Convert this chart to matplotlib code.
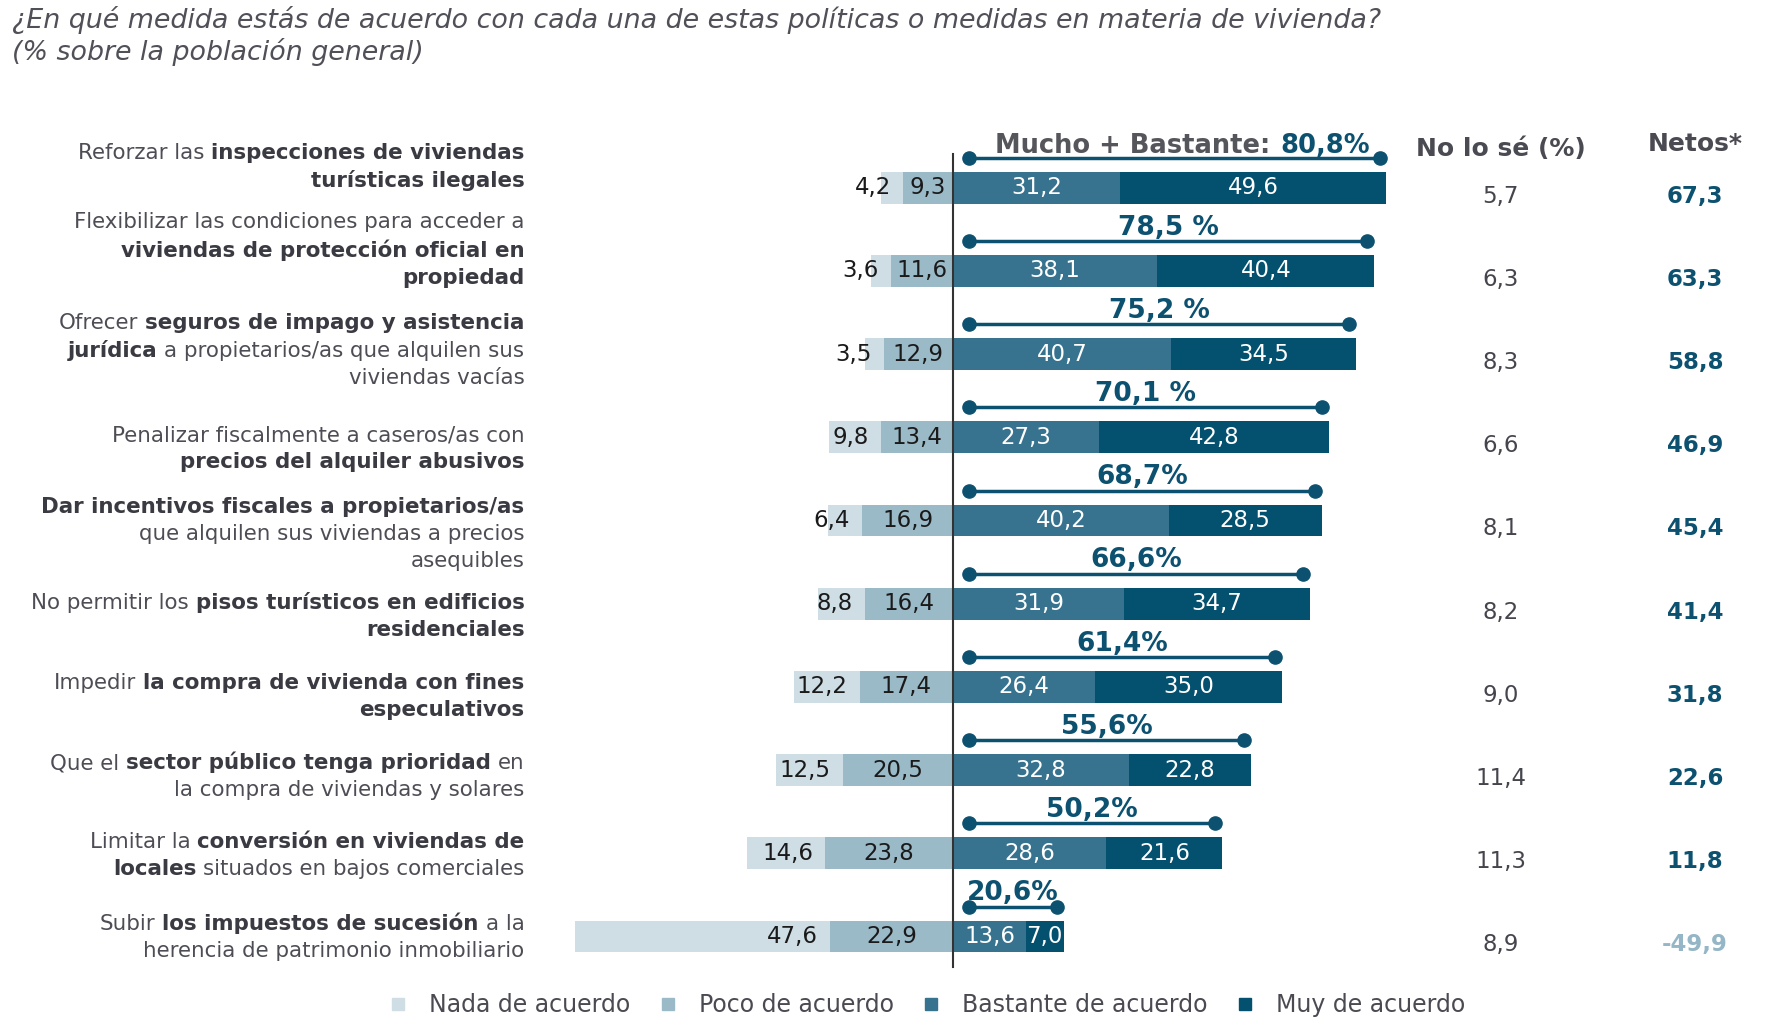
import numpy as np
import matplotlib
matplotlib.use("Agg")
import matplotlib.pyplot as plt
from matplotlib.lines import Line2D
from matplotlib.offsetbox import TextArea, HPacker, VPacker, AnnotationBbox

plt.rcParams['font.family'] = ['DejaVu Sans']

# ---- data ----
labels = [
    "Reforzar las **inspecciones de viviendas**\n**turísticas ilegales**",
    "Flexibilizar las condiciones para acceder a\n**viviendas de protección oficial en**\n**propiedad**",
    "Ofrecer **seguros de impago y asistencia**\n**jurídica** a propietarios/as que alquilen sus\nviviendas vacías",
    "Penalizar fiscalmente a caseros/as con\n**precios del alquiler abusivos**",
    "**Dar incentivos fiscales a propietarios/as**\nque alquilen sus viviendas a precios\nasequibles",
    "No permitir los **pisos turísticos en edificios**\n**residenciales**",
    "Impedir **la compra de vivienda con fines**\n**especulativos**",
    "Que el **sector público tenga prioridad** en\nla compra de viviendas y solares",
    "Limitar la **conversión en viviendas de**\n**locales** situados en bajos comerciales",
    "Subir **los impuestos de sucesión** a la\nherencia de patrimonio inmobiliario",
]
nada = [4.2, 3.6, 3.5, 9.8, 6.4, 8.8, 12.2, 12.5, 14.6, 47.6]
poco = [9.3, 11.6, 12.9, 13.4, 16.9, 16.4, 17.4, 20.5, 23.8, 22.9]
bastante = [31.2, 38.1, 40.7, 27.3, 40.2, 31.9, 26.4, 32.8, 28.6, 13.6]
muy = [49.6, 40.4, 34.5, 42.8, 28.5, 34.7, 35.0, 22.8, 21.6, 7.0]
total_labels = ["80,8%", "78,5 %", "75,2 %", "70,1 %", "68,7%", "66,6%",
                "61,4%", "55,6%", "50,2%", "20,6%"]
no_se = [5.7, 6.3, 8.3, 6.6, 8.1, 8.2, 9.0, 11.4, 11.3, 8.9]
netos = [67.3, 63.3, 58.8, 46.9, 45.4, 41.4, 31.8, 22.6, 11.8, -49.9]
legend_names = ["Nada de acuerdo", "Poco de acuerdo", "Bastante de acuerdo", "Muy de acuerdo"]

# ---- style ----
c_nada, c_poco, c_bast, c_muy = "#cfdde4", "#9bbac8", "#37738f", "#03506f"
c_text = "#45454d"
c_teal = "#0d5170"
c_neg = "#94b6c6"

W, H = 1784, 1034
PX_UNIT = 5.365      # pixels per percentage point
ZERO_PX = 953        # x pixel of the zero line
ROW0_PX = 187.7      # y pixel of the first bar centre
ROW_PX = 83.2        # pixels between bars

fig = plt.figure(figsize=(W / 100, H / 100), dpi=100)
ax = fig.add_axes([0, 0, 1, 1])
ax.set_xlim(-ZERO_PX / PX_UNIT, (W - ZERO_PX) / PX_UNIT)
ax.set_ylim((H - ROW0_PX) / ROW_PX, -ROW0_PX / ROW_PX)
ax.axis('off')

n = len(nada)
y = np.arange(n)
nada = np.array(nada); poco = np.array(poco)
bastante = np.array(bastante); muy = np.array(muy)
bh = 0.38

ax.barh(y, -poco, left=0, height=bh, color=c_poco)
ax.barh(y, -nada, left=-poco, height=bh, color=c_nada)
ax.barh(y, bastante, left=0, height=bh, color=c_bast)
ax.barh(y, muy, left=bastante, height=bh, color=c_muy)
ax.plot([0, 0], [-0.4, n - 0.63], color="#333333", lw=1.5, zorder=5)

fmt = lambda v: f"{v:.1f}".replace(".", ",")
vfs = 16.5
for i in range(n):
    ax.text(-poco[i] - 2.3, i, fmt(nada[i]), ha='right', va='center', fontsize=vfs, color="#1a1a1a")
    ax.text(-poco[i] / 2, i, fmt(poco[i]), ha='center', va='center', fontsize=vfs, color="#1a1a1a")
    ax.text(bastante[i] / 2, i, fmt(bastante[i]), ha='center', va='center', fontsize=vfs, color="white")
    ax.text(bastante[i] + muy[i] / 2, i, fmt(muy[i]), ha='center', va='center', fontsize=vfs, color="white")

    # bracket for Mucho + Bastante
    tot = bastante[i] + muy[i]
    x0, x1 = 3.0, tot - 1.3
    yb = i - 0.36
    ax.plot([x0, x1], [yb, yb], color=c_teal, lw=2.5, marker='o', ms=9.5, zorder=6)
    if i == 0:
        box = HPacker(children=[
            TextArea("Mucho + Bastante:", textprops=dict(fontsize=18.5, fontweight='bold', color="#55555c")),
            TextArea(total_labels[i], textprops=dict(fontsize=18.5, fontweight='bold', color=c_teal))],
            align='baseline', pad=0, sep=7)
        ab = AnnotationBbox(box, ((x0 + x1) / 2 + 1.5, yb - 0.14), frameon=False, box_alignment=(0.5, 0.5))
        ax.add_artist(ab)
    else:
        ax.text((x0 + x1) / 2, yb - 0.16, total_labels[i], ha='center', va='center',
                fontsize=19, fontweight='bold', color=c_teal)

    ax.text(102.1, i + 0.1, fmt(no_se[i]), ha='center', va='center', fontsize=16.5, color=c_text)
    ax.text(138.3, i + 0.1, fmt(netos[i]), ha='center', va='center', fontsize=16.5,
            fontweight='bold', color=c_teal if netos[i] >= 0 else c_neg)

# column headers
ax.text(102.1, -0.47, "No lo sé (%)", ha='center', va='center', fontsize=18, fontweight='bold', color="#4a4a52")
ax.text(138.3, -0.52, "Netos*", ha='center', va='center', fontsize=18, fontweight='bold', color="#4a4a52")

# category labels with bold fragments
label_dy = [-0.25, -0.25, -0.04, 0.14, 0.16, 0.15, 0.12, 0.07, 0.03, 0.0]
lfs = 15.4
x_lab = (524.5 - ZERO_PX) / PX_UNIT
for i, lab in enumerate(labels):
    rows = []
    for line in lab.split("\n"):
        parts = [p for p in line.split("**")]
        kids = []
        for k, p in enumerate(parts):
            p = p.strip()
            if not p:
                continue
            bold = (k % 2 == 1)
            kids.append(TextArea(p, textprops=dict(fontsize=lfs, color="#3a3a42" if bold else "#4d4d55",
                                                   fontweight='bold' if bold else 'normal')))
        rows.append(HPacker(children=kids, align='baseline', pad=0, sep=0.32 * lfs))
    box = VPacker(children=rows, align='right', pad=0, sep=5)
    ab = AnnotationBbox(box, (x_lab, i + label_dy[i]), frameon=False, box_alignment=(1, 0.5))
    ax.add_artist(ab)

# title
fig.text(12 / W, 1 - 20 / H, "¿En qué medida estás de acuerdo con cada una de estas políticas o medidas en materia de vivienda?",
         fontsize=19.4, style='italic', color="#505058", va='center', ha='left')
fig.text(12 / W, 1 - 52 / H, "(% sobre la población general)",
         fontsize=19.4, style='italic', color="#505058", va='center', ha='left')

# legend
handles = [Line2D([], [], marker='s', ls='', color=c, markersize=9)
           for c in [c_nada, c_poco, c_bast, c_muy]]
fig.legend(handles, legend_names, loc='center', bbox_to_anchor=(920 / W, 1 - 1005 / H), ncol=4,
           frameon=False, fontsize=17, handletextpad=0.3, columnspacing=0.6, labelcolor="#4a4a52")

fig.savefig("out.png", dpi=100)
